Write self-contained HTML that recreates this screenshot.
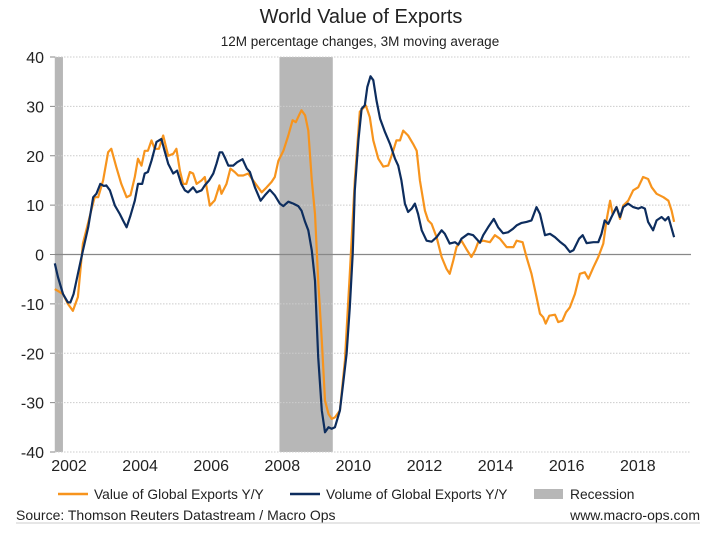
<!DOCTYPE html>
<html><head><meta charset="utf-8"><style>
body{margin:0;background:#fff;}
svg text{font-family:"Liberation Sans",Arial,sans-serif;}
</style></head><body>
<svg id="chart" width="718" height="539" xmlns="http://www.w3.org/2000/svg">
<text x="361" y="23" font-size="20" text-anchor="middle" fill="#222">World Value of Exports</text>
<text x="360" y="46" font-size="13.5" text-anchor="middle" fill="#222">12M percentage changes, 3M moving average</text>
<g id="rec"></g>
<g id="grid"></g>
<g id="series"></g>
<g>
<line x1="58" y1="494" x2="88" y2="494" stroke="#f7941d" stroke-width="2.5"/>
<text x="94" y="499" font-size="13.8" fill="#222">Value of Global Exports Y/Y</text>
<line x1="290" y1="494" x2="320" y2="494" stroke="#0d2d5e" stroke-width="2.5"/>
<text x="326" y="499" font-size="13.8" fill="#222">Volume of Global Exports Y/Y</text>
<rect x="534" y="489" width="29" height="10" fill="#b7b7b7"/>
<text x="570" y="499" font-size="13.8" fill="#222">Recession</text>
</g>
<text x="16" y="520" font-size="14" fill="#222">Source: Thomson Reuters Datastream / Macro Ops</text>
<text x="700" y="520" font-size="14" fill="#222" text-anchor="end">www.macro-ops.com</text>
<line x1="16" y1="523" x2="700" y2="523" stroke="#ccc" stroke-width="1"/>
</svg>
<script>
const yTicks=[40,30,20,10,0,-10,-20,-30,-40];
const xTicks=[2002,2004,2006,2008,2010,2012,2014,2016,2018];
const recStart=[2001.6,2007.92];
const recEnd=[2001.83,2009.42];
const valueT=[2001.6,2001.83,2001.97,2002.11,2002.25,2002.39,2002.58,2002.72,2002.82,2002.96,2003.1,2003.19,2003.33,2003.47,2003.62,2003.73,2003.85,2003.94,2004.04,2004.13,2004.22,2004.32,2004.41,2004.53,2004.65,2004.79,2004.93,2005.02,2005.12,2005.21,2005.3,2005.4,2005.49,2005.59,2005.73,2005.82,2005.96,2006.1,2006.23,2006.29,2006.43,2006.54,2006.66,2006.76,2006.9,2007.04,2007.18,2007.32,2007.42,2007.56,2007.7,2007.79,2007.89,2008.03,2008.17,2008.29,2008.38,2008.47,2008.54,2008.64,2008.73,2008.83,2008.92,2009.01,2009.11,2009.2,2009.3,2009.39,2009.48,2009.62,2009.76,2009.9,2010.04,2010.18,2010.35,2010.46,2010.56,2010.7,2010.84,2010.98,2011.12,2011.21,2011.31,2011.4,2011.54,2011.68,2011.78,2011.87,2012.01,2012.1,2012.2,2012.34,2012.48,2012.62,2012.71,2012.81,2012.9,2013.04,2013.18,2013.32,2013.42,2013.51,2013.65,2013.84,2013.98,2014.12,2014.31,2014.5,2014.59,2014.76,2014.87,2015.01,2015.15,2015.25,2015.34,2015.41,2015.51,2015.67,2015.76,2015.88,2015.98,2016.09,2016.23,2016.37,2016.51,2016.61,2016.75,2016.89,2017.03,2017.12,2017.22,2017.29,2017.4,2017.5,2017.59,2017.73,2017.87,2018.01,2018.15,2018.29,2018.39,2018.53,2018.72,2018.86,2018.95,2019.02];
const valueV=[-7,-8,-10,-11.4,-8.6,2.2,7.6,11.6,11.6,15,20.7,21.4,17.7,14.3,11.6,12,15.7,19.4,18,21,21,23.1,21.4,21.4,24.1,20,20.4,21.4,17,14.3,14.3,16.7,16.4,14.3,15,15.7,9.9,11,14,12.3,14.3,17.4,16.7,16,16,16.4,15,13.6,12.6,13.6,14.7,15.7,19,21,24.1,27.2,26.8,28.2,29.2,28.2,25.1,15,8.2,-5.3,-17.4,-29.6,-32.3,-33.3,-33,-31.6,-21.5,-3.9,15,28.9,30.2,27.8,23.1,19.4,17.8,18,21,23.1,23.1,25.1,24.1,22.4,21,15,8.9,6.9,6.2,3.5,-0.5,-2.9,-3.9,-1.2,1.5,2.8,1.1,-0.5,0.8,2.5,2.8,2.5,3.9,3.2,1.5,1.5,2.8,2.5,-0.5,-3.9,-8.6,-12,-12.7,-14,-12.4,-12.2,-13.7,-13.4,-11.7,-10.7,-8,-3.9,-3.6,-4.9,-2.6,-0.5,2.2,6.9,10.9,8.2,9.6,7.2,9.9,10.9,13,13.6,15.7,15.3,13.6,12.3,11.6,10.9,8.9,6.6];
const volumeT=[2001.6,2001.69,2001.83,2001.97,2002.04,2002.13,2002.25,2002.39,2002.54,2002.68,2002.77,2002.88,2002.98,2003.05,2003.15,2003.29,2003.43,2003.52,2003.62,2003.73,2003.85,2003.94,2004.06,2004.13,2004.22,2004.32,2004.46,2004.6,2004.69,2004.79,2004.93,2005.04,2005.16,2005.26,2005.35,2005.49,2005.59,2005.73,2005.82,2005.94,2006.06,2006.15,2006.24,2006.31,2006.38,2006.48,2006.62,2006.73,2006.88,2007.0,2007.09,2007.23,2007.39,2007.51,2007.65,2007.79,2007.93,2008.03,2008.17,2008.31,2008.45,2008.54,2008.64,2008.73,2008.83,2008.92,2009.01,2009.11,2009.2,2009.3,2009.39,2009.48,2009.62,2009.71,2009.81,2009.9,2009.98,2010.04,2010.14,2010.23,2010.32,2010.39,2010.48,2010.56,2010.65,2010.75,2010.89,2011.03,2011.17,2011.26,2011.35,2011.45,2011.54,2011.64,2011.73,2011.82,2011.92,2012.06,2012.2,2012.34,2012.48,2012.57,2012.71,2012.86,2012.95,2013.04,2013.23,2013.37,2013.56,2013.65,2013.79,2013.95,2014.07,2014.21,2014.35,2014.49,2014.59,2014.73,2014.87,2015.01,2015.15,2015.25,2015.39,2015.53,2015.67,2015.81,2015.95,2016.09,2016.19,2016.35,2016.45,2016.56,2016.75,2016.89,2016.98,2017.07,2017.17,2017.26,2017.4,2017.5,2017.59,2017.73,2017.87,2018.01,2018.11,2018.2,2018.29,2018.43,2018.53,2018.67,2018.77,2018.86,2019.02];
const volumeV=[-1.8,-4.6,-8,-9.7,-9.7,-8,-3.9,0.8,5.5,11.6,12.3,14.3,13.9,14,13,9.9,8.2,6.9,5.5,7.9,10.9,14.3,14.3,16.4,16.7,19,22.8,23.4,21,18.4,16.4,17,14.3,13,12.6,13.6,12.6,13,14,15,16.4,18.4,20.7,20.7,19.7,18,18,18.7,19.3,17.4,16.7,13.6,10.9,12,13.1,12,10.3,9.8,10.7,10.3,9.8,8.9,6.6,4.9,0.8,-5.3,-20.8,-31.6,-36,-35,-35.3,-35,-31.6,-26.2,-20.1,-10.7,0.1,13,23.1,29.5,30.2,33.9,36.1,35.3,31.2,27.5,24.8,22.4,19.4,18,15,10.3,8.6,9.3,10.3,8.2,4.9,2.8,2.6,3.5,4.9,4.2,2.2,2.5,2,3.2,4.2,3.9,2.4,3.9,5.5,7.2,5.5,4.3,4.5,5.2,5.9,6.4,6.6,6.9,9.6,8.2,3.9,4.2,3.5,2.6,1.8,0.5,0.9,3.2,3.9,2.3,2.5,2.5,4.2,6.9,6.2,7.6,9.6,7.6,9.6,10.3,9.6,9.3,9.6,9.3,6.6,4.9,6.9,7.6,6.9,7.6,3.5];

const NS="http://www.w3.org/2000/svg";
const L=55,R=691,T=57,B=452;
function xS(t){return 69+(t-2002)*35.55;}
function yS(v){return T+(40-v)*(B-T)/80;}
function mk(tag,attrs,parent){const e=document.createElementNS(NS,tag);for(const k in attrs)e.setAttribute(k,attrs[k]);parent.appendChild(e);return e;}
const rec=document.getElementById('rec'),grid=document.getElementById('grid'),ser=document.getElementById('series');
for(let i=0;i<recStart.length;i++){
  const r=mk('rect',{x:xS(recStart[i]),y:T,width:xS(recEnd[i])-xS(recStart[i]),height:B-T,fill:'#b7b7b7'},rec);
  
  
}
yTicks.forEach(v=>{
  const y=yS(v);
  const g=mk('line',{x1:L,y1:y,x2:R,y2:y,stroke:v===0?'#888':'#ccc','stroke-width':v===0?1.2:1,'stroke-dasharray':v===0?'':'1.5,1.5'},grid);
  
  
  const tk=mk('line',{x1:L-5,y1:y,x2:L,y2:y,stroke:'#888'},grid);
  
  
  const tx=mk('text',{x:44,y:y+6,'font-size':16,'text-anchor':'end',fill:'#222'},grid);
  tx.textContent=v;
  
  
});
xTicks.forEach(t=>{
  const tx=mk('text',{x:xS(t),y:471,'font-size':16,'text-anchor':'middle',fill:'#222'},grid);
  tx.textContent=t;
  
  
});
function line(ts,vs,color,name){
  const d=ts.map((t,i)=>(i?'L':'M')+xS(t).toFixed(1)+','+yS(vs[i]).toFixed(1)).join(' ');
  const p=mk('path',{d:d,fill:'none',stroke:color,'stroke-width':2.2,'stroke-linejoin':'round'},ser);
  
  
}
line(valueT,valueV,'#f7941d','value-exports-line');
line(volumeT,volumeV,'#0d2d5e','volume-exports-line');
</script>
</body></html>
